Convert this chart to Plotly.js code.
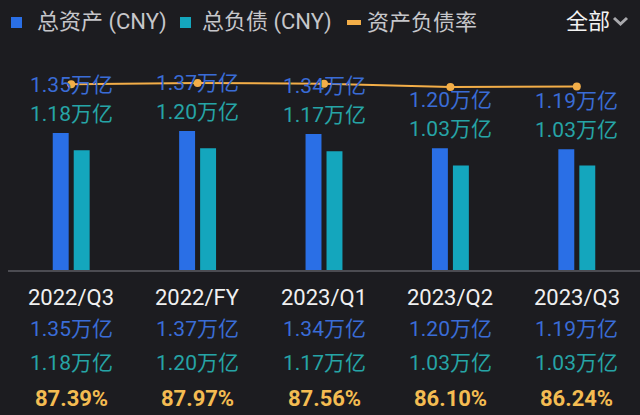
<!DOCTYPE html>
<html>
<head>
<meta charset="utf-8">
<script src="https://cdn.plot.ly/plotly-3.0.1.min.js"></script>
<style>html,body{margin:0;padding:0;background:#1c1c20;}#chart{width:640px;height:415px;}</style>
</head>
<body>
<div id="chart"></div>
<script>
const categories = ['2022/Q3', '2022/FY', '2023/Q1', '2023/Q2', '2023/Q3'];
const totalAssets = [1.35, 1.37, 1.34, 1.20, 1.19];        // 万亿 CNY
const totalLiabilities = [1.18, 1.20, 1.17, 1.03, 1.03];   // 万亿 CNY
const debtRatio = [87.39, 87.97, 87.56, 86.10, 86.24];     // %
const assetLabels = ['1.35万亿', '1.37万亿', '1.34万亿', '1.20万亿', '1.19万亿'];
const liabilityLabels = ['1.18万亿', '1.20万亿', '1.17万亿', '1.03万亿', '1.03万亿'];
const ratioLabels = ['87.39%', '87.97%', '87.56%', '86.10%', '86.24%'];
const seriesNames = ['总资产 (CNY)', '总负债 (CNY)', '资产负债率'];
const filterLabel = '全部';

const BG = '#1c1c20';
const C_ASSET = '#2a6fe6';
const C_LIAB = '#14a6bd';
const C_LINE = '#f3ae48';
const T_ASSET = '#3a6cd6';
const T_LIAB = '#26a4a6';
const T_RATIO = '#f4bc52';
const FONT = 'Roboto, "Noto Sans CJK SC", sans-serif';

const traces = [
  {type: 'bar', name: seriesNames[0], x: categories, y: totalAssets, marker: {color: C_ASSET}, showlegend: false, hoverinfo: 'skip'},
  {type: 'bar', name: seriesNames[1], x: categories, y: totalLiabilities, marker: {color: C_LIAB}, showlegend: false, hoverinfo: 'skip'},
  {type: 'scatter', mode: 'lines+markers', name: seriesNames[2], x: categories, y: debtRatio, yaxis: 'y2',
   line: {color: C_LINE, width: 2}, marker: {color: C_LINE, size: 8}, showlegend: false, hoverinfo: 'skip'}
];

const annotations = [];
const shapes = [];
categories.forEach((c, i) => {
  annotations.push({xref: 'x', yref: 'y', x: c, y: totalAssets[i], yanchor: 'middle', yshift: 48, text: assetLabels[i], showarrow: false, font: {family: FONT, size: 21, color: T_ASSET}});
  annotations.push({xref: 'x', yref: 'y', x: c, y: totalAssets[i], yanchor: 'middle', yshift: 19, text: liabilityLabels[i], showarrow: false, font: {family: FONT, size: 21, color: T_LIAB}});
  annotations.push({xref: 'x', yref: 'paper', x: c, y: 0, yanchor: 'middle', yshift: -27, text: c, showarrow: false, font: {family: FONT, size: 22, color: '#f0f0f0'}});
  annotations.push({xref: 'x', yref: 'paper', x: c, y: 0, yanchor: 'middle', yshift: -59, text: assetLabels[i], showarrow: false, font: {family: FONT, size: 21, color: T_ASSET}});
  annotations.push({xref: 'x', yref: 'paper', x: c, y: 0, yanchor: 'middle', yshift: -93, text: liabilityLabels[i], showarrow: false, font: {family: FONT, size: 21, color: T_LIAB}});
  annotations.push({xref: 'x', yref: 'paper', x: c, y: 0, yanchor: 'middle', yshift: -128, text: ratioLabels[i], showarrow: false, font: {family: FONT, size: 22, color: T_RATIO, weight: 'bold'}});
});

// custom legend
const legendText = {family: FONT, size: 22, color: '#c6c6ca'};
[[27, seriesNames[0]], [192, seriesNames[1]], [357, seriesNames[2]]].forEach(([dx, t]) => {
  annotations.push({xref: 'paper', yref: 'paper', x: 0, y: 1, xanchor: 'left', yanchor: 'middle', xshift: dx, yshift: 23, text: t, showarrow: false, font: legendText});
});
annotations.push({xref: 'paper', yref: 'paper', x: 0, y: 1, xanchor: 'left', yanchor: 'middle', xshift: 556, yshift: 24, text: filterLabel, showarrow: false, font: {family: FONT, size: 22, color: '#f2f2f2'}});

const pix = {xref: 'paper', yref: 'paper', xsizemode: 'pixel', ysizemode: 'pixel', xanchor: 0, yanchor: 1};
shapes.push(Object.assign({type: 'rect', x0: 3, x1: 14, y0: 17, y1: 28, fillcolor: C_ASSET, line: {width: 0}}, pix));
shapes.push(Object.assign({type: 'rect', x0: 172, x1: 183, y0: 17, y1: 28, fillcolor: C_LIAB, line: {width: 0}}, pix));
shapes.push(Object.assign({type: 'rect', x0: 339, x1: 353, y0: 20, y1: 25, fillcolor: C_LINE, line: {width: 0}}, pix));
shapes.push(Object.assign({type: 'path', path: 'M606,27 L612.5,21 L619,27', line: {color: '#a9a9ad', width: 3}}, pix));

const layout = {
  width: 640, height: 415,
  margin: {l: 8, r: 0, t: 45, b: 145, pad: 0},
  paper_bgcolor: BG, plot_bgcolor: BG,
  barmode: 'group', bargap: 0.668, bargroupgap: 0.24,
  showlegend: false,
  xaxis: {type: 'category', showline: true, linecolor: '#4c4c52', linewidth: 2, showticklabels: false, showgrid: false, zeroline: false, ticks: '', fixedrange: true},
  yaxis: {range: [0, 2.217], visible: false, showgrid: false, zeroline: false, fixedrange: true},
  yaxis2: {range: [0, 105.8], overlaying: 'y', visible: false, showgrid: false, zeroline: false, fixedrange: true},
  annotations: annotations,
  shapes: shapes,
  font: {family: FONT}
};

Plotly.newPlot('chart', traces, layout, {displayModeBar: false, staticPlot: true});
</script>
</body>
</html>
